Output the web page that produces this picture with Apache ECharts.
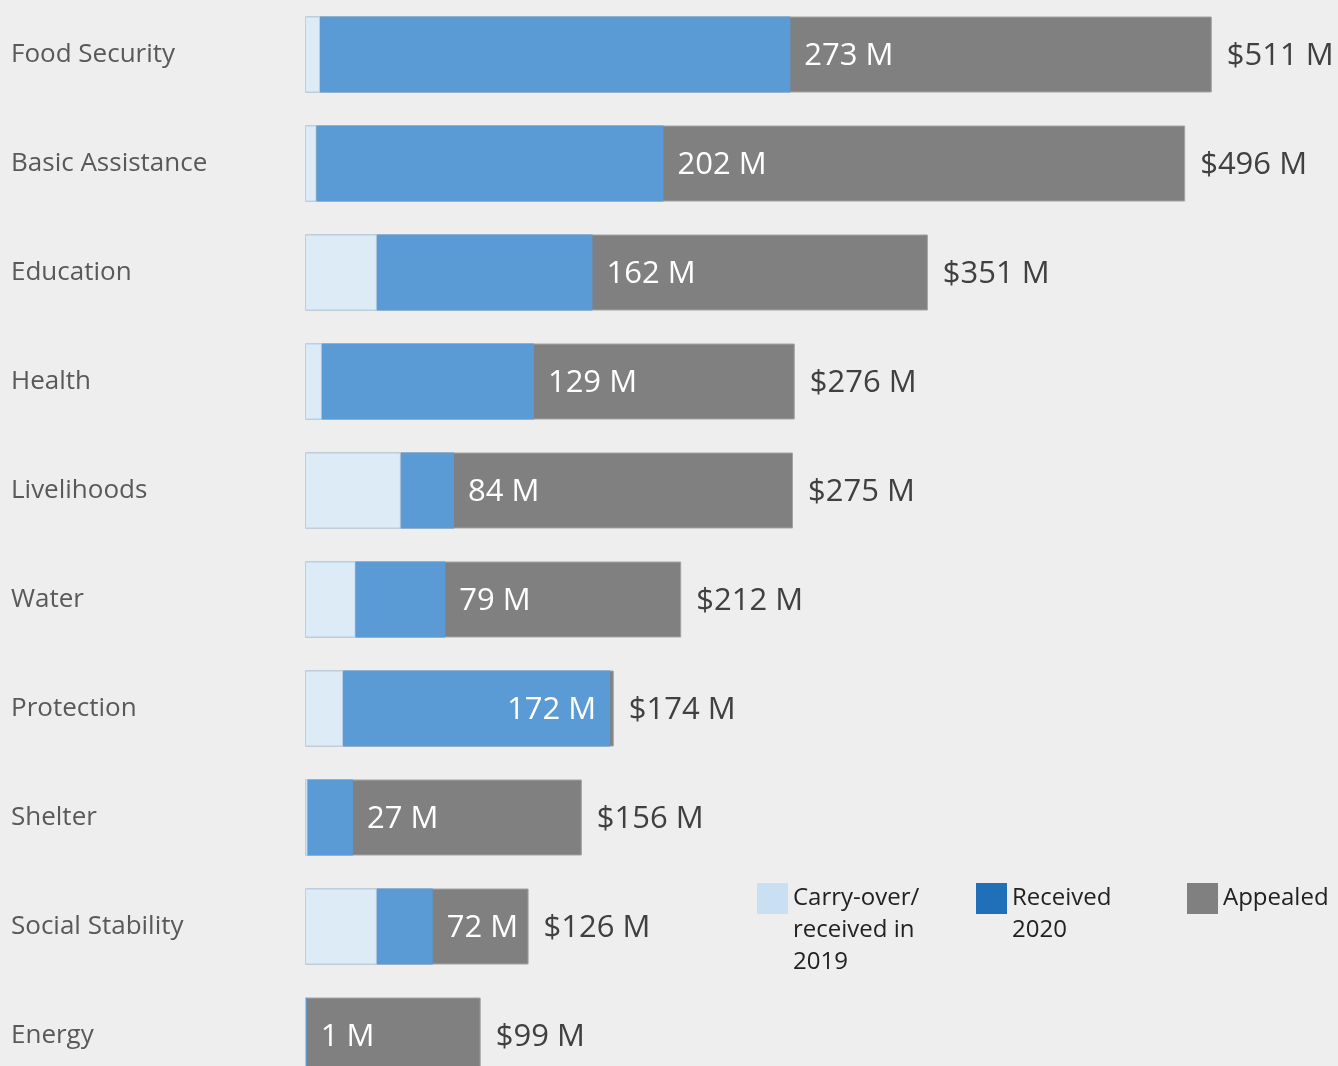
<!DOCTYPE html>
<html>
<head>
<meta charset="utf-8">
<script src="https://cdn.jsdelivr.net/npm/echarts@6/dist/echarts.min.js"></script>
<style>
html,body{margin:0;padding:0;background:#eeeeee;}
#chart{width:1338px;height:1066px;}
</style>
</head>
<body>
<div id="chart"></div>
<script>
const categories = ['Food Security','Basic Assistance','Education','Health','Livelihoods','Water','Protection','Shelter','Social Stability','Energy'];
const carryOver = [8.5, 6.5, 40.5, 9.5, 54, 28.5, 21.5, 1.5, 40.5, 0.5];
const received2020 = [265, 195.5, 121.5, 119.5, 30, 50.5, 150.5, 25.5, 31.5, 0.5];
const receivedTotal = [273, 202, 162, 129, 84, 79, 172, 27, 72, 1];
const appealed = [511, 496, 351, 276, 275, 212, 174, 156, 126, 99];
const seriesNames = ['Carry-over/received in 2019', 'Received 2020', 'Appealed'];
const legendLines = [['Carry-over/', 'received in', '2019'], ['Received', '2020'], ['Appealed']];

const FONT = 'Open Sans';
const chart = echarts.init(document.getElementById('chart'));

const receivedData = received2020.map((v, i) => {
  const nearlyFull = receivedTotal[i] / appealed[i] > 0.95;
  return nearlyFull ? { value: v, label: { position: 'insideRight', distance: 14 } } : v;
});

// first text line sits level with the square: pad with blank lines above
function legendFor(i, left, iconTop, color) {
  const lines = legendLines[i];
  const blanks = lines.length - 1;
  const text = new Array(blanks).fill('').concat(lines).join('\n');
  const halfBlock = (lines.length + blanks) * 32 / 2;
  return {
    left: left, top: iconTop + 15.5 - halfBlock, orient: 'vertical', padding: 0,
    itemWidth: 31, itemHeight: 31, selectedMode: false,
    data: [{ name: seriesNames[i], icon: 'rect', itemStyle: { color: color, borderWidth: 0 } }],
    formatter: () => text,
    textStyle: { fontFamily: FONT, fontSize: 24, color: '#222222', lineHeight: 32 }
  };
}

chart.setOption({
  backgroundColor: '#eeeeee',
  animation: false,
  grid: { left: 305, top: 0, width: 976, height: 1090, outerBoundsMode: 'none', containLabel: false },
  xAxis: { type: 'value', min: 0, max: 550, show: false },
  yAxis: {
    type: 'category', inverse: true, data: categories,
    axisLine: { show: false }, axisTick: { show: false }, splitLine: { show: false },
    axisLabel: { align: 'left', margin: 294, fontFamily: FONT, fontSize: 26, color: '#595959' }
  },
  legend: [
    legendFor(0, 757, 883, '#c9dff2'),
    legendFor(1, 976, 883, '#1f70b8'),
    legendFor(2, 1187, 883, '#808080')
  ],
  series: [
    {
      name: seriesNames[2], type: 'bar', data: appealed, barWidth: 76, barGap: '-100%',
      itemStyle: { color: '#808080', borderColor: '#a3a3a3', borderWidth: 1 },
      label: { show: true, position: 'right', distance: 15, offset: [0, 2], fontFamily: FONT, fontSize: 31, color: '#404040',
        formatter: p => '$' + p.value + ' M' }
    },
    {
      name: seriesNames[0], type: 'bar', stack: 'recv', data: carryOver, barWidth: 76, barGap: '-100%',
      itemStyle: { color: '#ddebf7', borderColor: '#b6d0ea', borderWidth: 1 }
    },
    {
      name: seriesNames[1], type: 'bar', stack: 'recv', data: receivedData, barWidth: 76, barGap: '-100%',
      itemStyle: { color: '#5b9bd5' },
      label: { show: true, position: 'right', distance: 14, offset: [0, 2], fontFamily: FONT, fontSize: 31, color: '#ffffff',
        formatter: p => receivedTotal[p.dataIndex] + ' M' }
    }
  ]
});
</script>
</body>
</html>
